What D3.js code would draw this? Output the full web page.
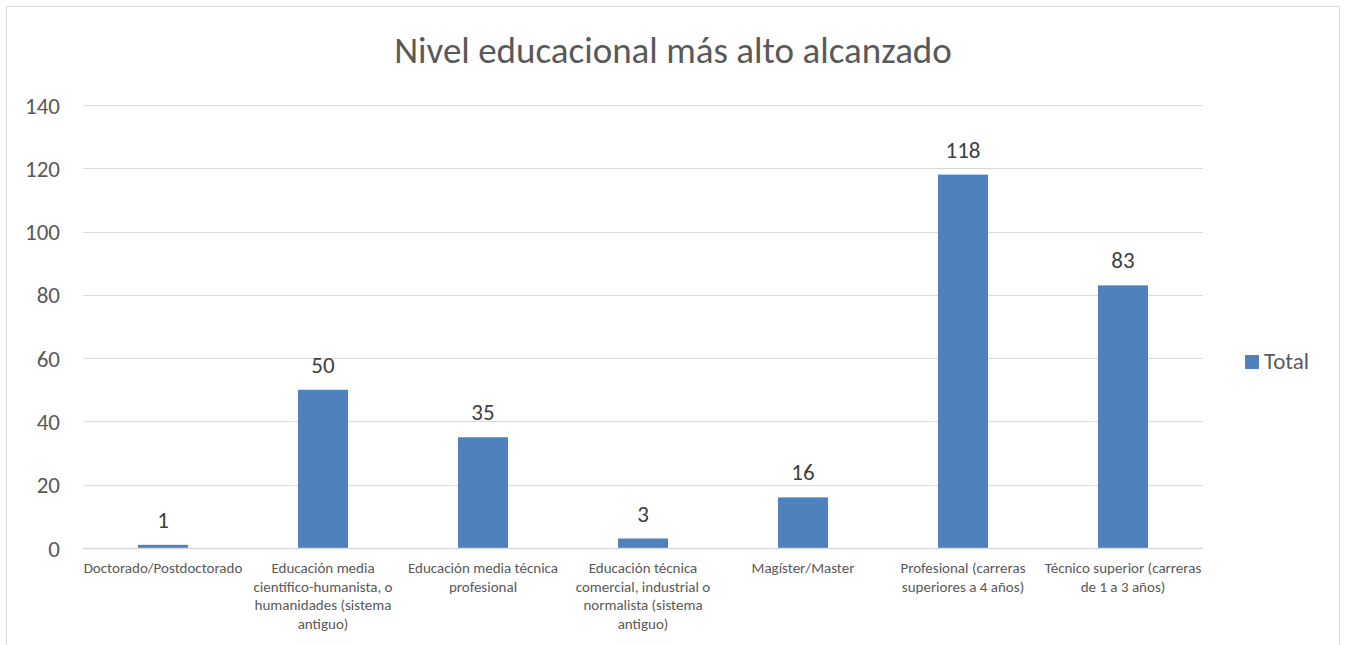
<!DOCTYPE html>
<html><head><meta charset="utf-8">
<script src="https://cdn.jsdelivr.net/npm/d3@7"></script>
<style>
html,body{margin:0;padding:0;background:#fff;}
svg{display:block;font-family:Carlito,Calibri,Lato,"Open Sans",sans-serif;}
</style></head>
<body>
<svg id="chart" width="1347" height="645"></svg>
<script>
const categories = [
  "Doctorado/Postdoctorado",
  "Educación media científico-humanista, o humanidades (sistema antiguo)",
  "Educación media técnica profesional",
  "Educación técnica comercial, industrial o normalista (sistema antiguo)",
  "Magíster/Master",
  "Profesional (carreras superiores a 4 años)",
  "Técnico superior (carreras de 1 a 3 años)"
];
const categoryLines = [
  ["Doctorado/Postdoctorado"],
  ["Educación media", "científico-humanista, o", "humanidades (sistema", "antiguo)"],
  ["Educación media técnica", "profesional"],
  ["Educación técnica", "comercial, industrial o", "normalista (sistema", "antiguo)"],
  ["Magíster/Master"],
  ["Profesional (carreras", "superiores a 4 años)"],
  ["Técnico superior (carreras", "de 1 a 3 años)"]
];
const totals = [1, 50, 35, 3, 16, 118, 83];
const yTicks = [0, 20, 40, 60, 80, 100, 120, 140];
const seriesName = "Total";
const title = "Nivel educacional más alto alcanzado";

(function () {
const svg = d3.select("#chart");
const textColor = "#595959";
const barColor = "#4f81bd";

// frame
svg.append("path")
  .attr("d", "M6.5,650 V6.5 H1339.5 V650")
  .attr("fill", "none").attr("stroke", "#d9d9d9").attr("stroke-width", 1);

const pL = 83, pR = 1203, pT = 105, pB = 548;
const x = d3.scaleBand().domain(categories).range([pL, pR]).paddingInner(0.6875).paddingOuter(0.34375);
const y = d3.scaleLinear().domain([0, 140]).range([pB, pT]);

// gridlines
svg.append("g").selectAll("line").data(yTicks).join("line")
  .attr("x1", pL).attr("x2", pR)
  .attr("y1", d => Math.round(y(d)) + 0.5).attr("y2", d => Math.round(y(d)) + 0.5)
  .attr("stroke", "#d9d9d9").attr("stroke-width", 1);

// y axis labels
const yAxis = d3.axisLeft(y).tickValues(yTicks).tickSize(0).tickPadding(0);
const gy = svg.append("g").attr("transform", `translate(${pL - 23},0)`).call(yAxis);
gy.select(".domain").remove();
gy.selectAll("text").attr("fill", textColor).style("font-size", "23px")
  .style("font-family", "Carlito,Calibri,Lato,sans-serif").attr("dy", "0.35em");

// bars
svg.append("g").selectAll("rect").data(totals).join("rect")
  .attr("x", (d, i) => x(categories[i]))
  .attr("width", x.bandwidth())
  .attr("y", d => y(d))
  .attr("height", d => y(0) - y(d))
  .attr("fill", barColor);

// data labels
svg.append("g").selectAll("text").data(totals).join("text")
  .attr("x", (d, i) => x(categories[i]) + x.bandwidth() / 2)
  .attr("y", d => y(d) - 17)
  .attr("text-anchor", "middle")
  .attr("fill", "#404040")
  .style("font-size", "23px")
  .text(d => d);

// baseline axis
svg.append("line").attr("x1", pL).attr("x2", pR)
  .attr("y1", Math.round(y(0)) + 0.5).attr("y2", Math.round(y(0)) + 0.5)
  .attr("stroke", "#d9d9d9").attr("stroke-width", 1.5);

// x axis labels
const gx = svg.append("g");
categories.forEach((c, i) => {
  const cx = x(c) + x.bandwidth() / 2;
  const t = gx.append("text")
    .attr("x", cx).attr("y", 573)
    .attr("text-anchor", "middle")
    .attr("fill", textColor)
    .style("font-size", "15px");
  categoryLines[i].forEach((ln, j) => {
    t.append("tspan").attr("x", cx).attr("y", 573 + j * 18.6).text(ln);
  });
});

// title
svg.append("text").attr("x", 673).attr("y", 63)
  .attr("text-anchor", "middle").attr("fill", textColor)
  .style("font-size", "37px").style("font-weight", 300).text(title);

// legend
svg.append("rect").attr("x", 1245).attr("y", 355).attr("width", 14).attr("height", 14).attr("fill", barColor);
svg.append("text").attr("x", 1264).attr("y", 369).attr("fill", textColor)
  .style("font-size", "23px").text(seriesName);
})();
</script>
</body></html>
